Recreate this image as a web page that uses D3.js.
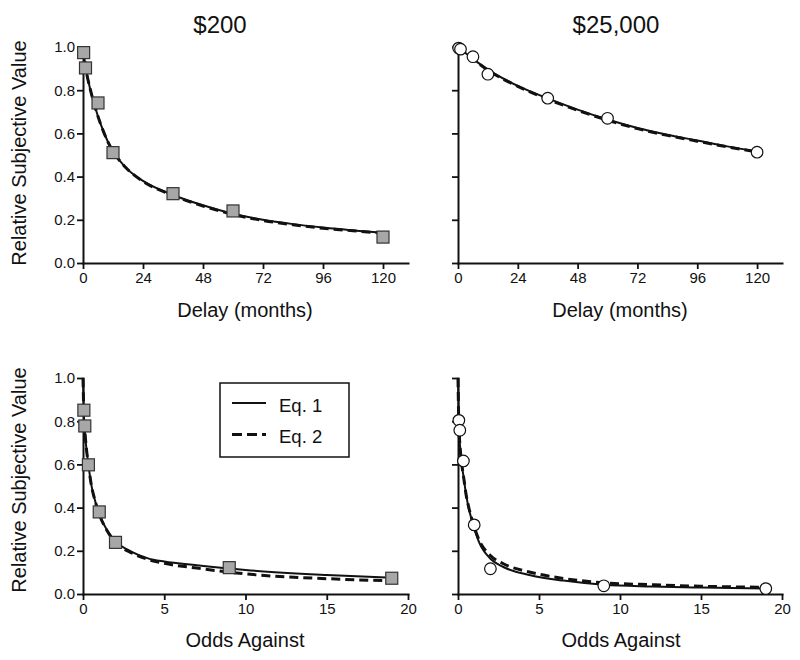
<!DOCTYPE html>
<html>
<head>
<meta charset="utf-8">
<script src="https://cdn.jsdelivr.net/npm/d3@7"></script>
<style>
  html, body { margin: 0; padding: 0; background: #fff; }
  svg { display: block; font-family: "Liberation Sans", Arial, Helvetica, sans-serif; }
</style>
</head>
<body>
<svg id="chart" width="800" height="660"></svg>
<script>
// ---------- Data ----------
const delayTicks = [0, 24, 48, 72, 96, 120];
const oddsTicks = [0, 5, 10, 15, 20];
const yTicks = [0, 0.2, 0.4, 0.6, 0.8, 1.0];

const panelTitles = ["$200", "$25,000"];
const delayLabel = "Delay (months)";
const oddsLabel = "Odds Against";
const yLabel = "Relative Subjective Value";
const legendLabels = ["Eq. 1", "Eq. 2"];

// observed points
const delays = [0.25, 1, 6, 12, 36, 60, 120];
const odds = [0.053, 0.111, 0.333, 1, 2, 9, 19];
const delay200 = [0.974, 0.903, 0.741, 0.511, 0.321, 0.241, 0.120];
const delay25k = [0.995, 0.99, 0.955, 0.874, 0.763, 0.670, 0.513];
const odds200 = [0.851, 0.778, 0.598, 0.380, 0.239, 0.122, 0.073];
const odds25k = [0.804, 0.758, 0.616, 0.320, 0.117, 0.038, 0.025];

// fitted curves
const delay200CurveX = [0, 1, 3, 5, 7, 10, 13, 17, 24, 36, 48, 60, 72, 84, 96, 108, 120];
const delay200Eq1 = [1.0, 0.91, 0.80, 0.715, 0.645, 0.56, 0.50, 0.443, 0.38, 0.315, 0.267, 0.228, 0.200, 0.180, 0.164, 0.151, 0.140];
const delay200Eq2 = [1.0, 0.91, 0.80, 0.715, 0.645, 0.56, 0.50, 0.443, 0.378, 0.313, 0.264, 0.225, 0.197, 0.177, 0.161, 0.149, 0.138];

const delay25kCurveX = [0, 6, 12, 24, 36, 48, 60, 72, 84, 96, 108, 120];
const delay25kEq1 = [1.0, 0.945, 0.895, 0.82, 0.762, 0.71, 0.664, 0.625, 0.594, 0.567, 0.54, 0.516];
const delay25kEq2 = [1.0, 0.944, 0.893, 0.818, 0.758, 0.707, 0.661, 0.622, 0.591, 0.564, 0.538, 0.514];

const odds200CurveX = [0, 0.05, 0.1, 0.2, 0.33, 0.5, 0.75, 1, 1.5, 2, 3, 4, 5, 7, 10, 15, 19];
const odds200Eq1 = [1.0, 0.84, 0.77, 0.68, 0.60, 0.51, 0.43, 0.37, 0.293, 0.245, 0.195, 0.165, 0.15, 0.133, 0.111, 0.088, 0.075];
const odds200Eq2 = [1.0, 0.84, 0.77, 0.68, 0.60, 0.51, 0.43, 0.37, 0.29, 0.24, 0.19, 0.16, 0.142, 0.12, 0.093, 0.071, 0.061];

const odds25kCurveX = [0, 0.03, 0.08, 0.15, 0.25, 0.35, 0.5, 0.7, 0.9, 1.3, 2, 2.8, 4.4, 6.5, 9, 12, 15, 19];
const odds25kEq1 = [1.0, 0.86, 0.74, 0.66, 0.59, 0.54, 0.46, 0.385, 0.33, 0.24, 0.163, 0.125, 0.088, 0.062, 0.043, 0.035, 0.03, 0.025];
const odds25kEq2 = [1.0, 0.86, 0.74, 0.66, 0.59, 0.54, 0.46, 0.39, 0.335, 0.25, 0.178, 0.14, 0.102, 0.072, 0.052, 0.043, 0.036, 0.031];

// ---------- Drawing ----------
const svg = d3.select("#chart");
const ink = "#111";

const panels = [
  { xDom: [0, 130], xRange: [83, 408], yRange: [263, 47], ticks: delayTicks, xs: delays, ys: delay200, cx: delay200CurveX, e1: delay200Eq1, e2: delay200Eq2, marker: "square", yLabels: true, xLabel: delayLabel, xLabelPos: [245, 317], yLabelPos: [26, 153], title: panelTitles[0], titlePos: [220, 33] },
  { xDom: [0, 130], xRange: [458, 782], yRange: [263, 47], ticks: delayTicks, xs: delays, ys: delay25k, cx: delay25kCurveX, e1: delay25kEq1, e2: delay25kEq2, marker: "circle", yLabels: false, xLabel: delayLabel, xLabelPos: [620, 317], title: panelTitles[1], titlePos: [616, 33] },
  { xDom: [0, 20], xRange: [83, 408], yRange: [594, 378], ticks: oddsTicks, xs: odds, ys: odds200, cx: odds200CurveX, e1: odds200Eq1, e2: odds200Eq2, marker: "square", yLabels: true, xLabel: oddsLabel, xLabelPos: [245, 647], yLabelPos: [26, 480], legend: true },
  { xDom: [0, 20], xRange: [458, 782], yRange: [594, 378], ticks: oddsTicks, xs: odds, ys: odds25k, cx: odds25kCurveX, e1: odds25kEq1, e2: odds25kEq2, marker: "circle", yLabels: false, xLabel: oddsLabel, xLabelPos: [621, 647] }
];

panels.forEach(p => {
  const x = d3.scaleLinear().domain(p.xDom).range(p.xRange);
  const y = d3.scaleLinear().domain([0, 1]).range(p.yRange);
  const g = svg.append("g");

  // axes
  const xAxis = d3.axisBottom(x).tickValues(p.ticks).tickSize(6).tickSizeOuter(0).tickPadding(3).tickFormat(d3.format("d"));
  const gx = g.append("g").attr("transform", `translate(0,${p.yRange[0]})`).call(xAxis);
  const yAxis = d3.axisLeft(y).tickValues(yTicks).tickSize(6).tickSizeOuter(0).tickPadding(2)
    .tickFormat(p.yLabels ? d3.format(".1f") : () => "");
  const gy = g.append("g").attr("transform", `translate(${p.xRange[0]},0)`).call(yAxis);

  [gx, gy].forEach(a => {
    a.select(".domain").attr("stroke", ink).attr("stroke-width", 2).attr("stroke-linecap", "square");
    a.selectAll(".tick line").attr("stroke", ink).attr("stroke-width", 1.8);
    a.selectAll(".tick text").attr("fill", ink).style("font-size", "15px")
      .style("font-family", "'Liberation Sans', Arial, sans-serif");
  });

  // curves
  const line = d3.line().x(d => x(d[0])).y(d => y(d[1])).curve(d3.curveMonotoneX);
  const c1 = p.cx.map((v, i) => [v, p.e1[i]]);
  const c2 = p.cx.map((v, i) => [v, p.e2[i]]);
  g.append("path").attr("d", line(c2)).attr("fill", "none").attr("stroke", ink)
    .attr("stroke-width", 3).attr("stroke-dasharray", "9,5");
  g.append("path").attr("d", line(c1)).attr("fill", "none").attr("stroke", ink)
    .attr("stroke-width", 2);

  // markers
  const pts = p.xs.map((v, i) => [v, p.ys[i]]);
  if (p.marker === "square") {
    g.selectAll("rect.pt").data(pts).enter().append("rect").attr("class", "pt")
      .attr("x", d => x(d[0]) - 6).attr("y", d => y(d[1]) - 6)
      .attr("width", 12).attr("height", 12)
      .attr("fill", "#a7a7a7").attr("stroke", "#333").attr("stroke-width", 1.2);
  } else {
    g.selectAll("circle.pt").data(pts).enter().append("circle").attr("class", "pt")
      .attr("cx", d => x(d[0])).attr("cy", d => y(d[1])).attr("r", 5.8)
      .attr("fill", "#fff").attr("stroke", ink).attr("stroke-width", 1.2);
  }

  // labels
  g.append("text").attr("x", p.xLabelPos[0]).attr("y", p.xLabelPos[1])
    .attr("text-anchor", "middle").attr("fill", ink).style("font-size", "20px").text(p.xLabel);
  if (p.yLabelPos) {
    g.append("text").attr("transform", `translate(${p.yLabelPos[0]},${p.yLabelPos[1]}) rotate(-90)`)
      .attr("text-anchor", "middle").attr("fill", ink).style("font-size", "20px").text(yLabel);
  }
  if (p.title) {
    g.append("text").attr("x", p.titlePos[0]).attr("y", p.titlePos[1])
      .attr("text-anchor", "middle").attr("fill", ink).style("font-size", "24px").text(p.title);
  }

  if (p.legend) {
    const lg = g.append("g");
    lg.append("rect").attr("x", 220).attr("y", 383).attr("width", 129).attr("height", 74)
      .attr("fill", "#fff").attr("stroke", ink).attr("stroke-width", 1.5);
    lg.append("line").attr("x1", 232).attr("x2", 266).attr("y1", 403).attr("y2", 403)
      .attr("stroke", ink).attr("stroke-width", 2);
    lg.append("line").attr("x1", 232).attr("x2", 266).attr("y1", 434.5).attr("y2", 434.5)
      .attr("stroke", ink).attr("stroke-width", 3).attr("stroke-dasharray", "10,5");
    lg.append("text").attr("x", 279).attr("y", 411.5).attr("fill", ink).style("font-size", "18.5px").text(legendLabels[0]);
    lg.append("text").attr("x", 279).attr("y", 443).attr("fill", ink).style("font-size", "18.5px").text(legendLabels[1]);
  }
});
</script>
</body>
</html>
